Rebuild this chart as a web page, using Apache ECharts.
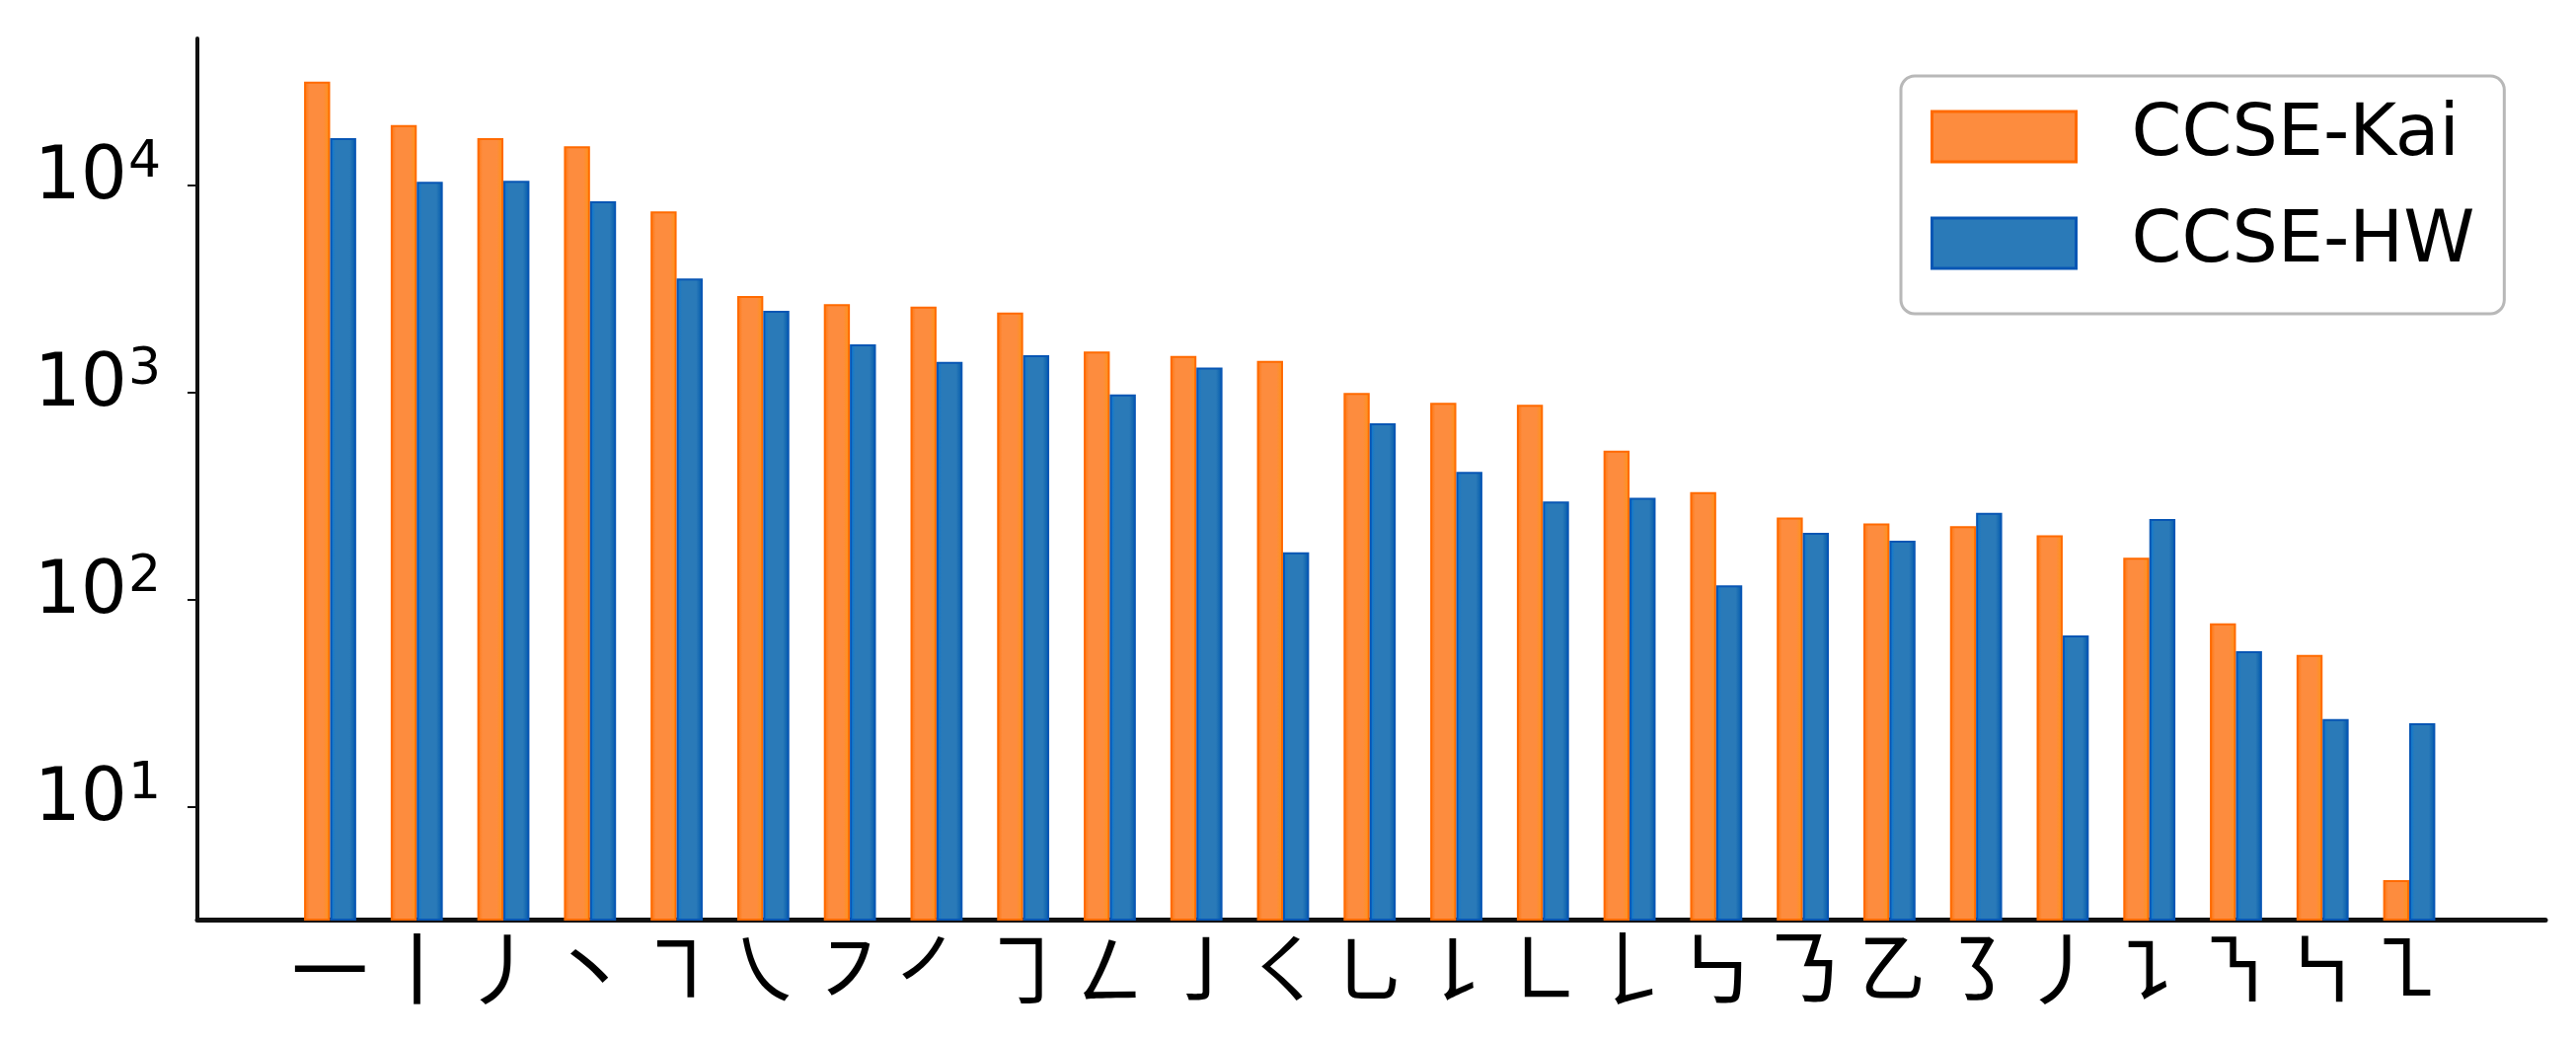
<!DOCTYPE html>
<html>
<head>
<meta charset="utf-8">
<style>html,body{margin:0;padding:0;background:#fff}#c{width:2610px;height:1052px}</style>
<script src="https://cdn.jsdelivr.net/npm/echarts@6/dist/echarts.min.js"></script>
</head>
<body>
<div id="c"></div>
<script>
const strokes = ['㇐','㇑','㇓','丶','㇕','㇏','㇇','㇒','㇆','㇜','㇚','㇛','㇟','㇙','㇗','𠄌','㇉','㇡','㇠','㇌','㇓','㇊','㇎','㇞','㇅'];
const ccseKai = [31770,19600,16940,15460,7500,2926,2671,2601,2436,1577,1503,1422,995,891,871,524,330,249,233,226,204,159,76.7,54,4.4];
const ccseHw = [16940,10420,10520,8390,3556,2483,1708,1406,1514,977,1318,169,710,413,297,310,117,210,192,262,67,245,56.2,26.4,25.2];
const yTicks = [10,100,1000,10000];
const yMin = 2.84, yMax = 51300;

const grad = (a,b,c) => ({type:'linear',x:0,y:0,x2:1,y2:0,colorStops:[
  {offset:0,color:a},{offset:0.2,color:b},{offset:0.75,color:b},{offset:1,color:c}]});

const chart = echarts.init(document.getElementById('c'), null, {renderer:'canvas'});
const labelFont = 'DejaVu Sans';
chart.setOption({
  animation:false,
  backgroundColor:'#fff',
  grid:[
    {left:200, right:31, top:39, height:893},
    {left:290.6, right:125.1, top:39, height:893}
  ],
  legend:{
    left:1926, top:77,
    orient:'vertical',
    padding:[25,30,35,30],
    itemWidth:146, itemHeight:51, itemGap:35,
    backgroundColor:'#fff',
    borderColor:'#b8b8b8', borderWidth:3, borderRadius:14,
    icon:'rect',
    textStyle:{fontFamily:labelFont,fontSize:73,color:'#000',lineHeight:51,padding:[0,0,0,51]},
    data:[
      {name:'CCSE-Kai',itemStyle:{color:'#fd8c3e',borderColor:'#ff6a00',borderWidth:3}},
      {name:'CCSE-HW',itemStyle:{color:'#2a7ab8',borderColor:'#0856b4',borderWidth:3}}
    ]
  },
  xAxis:[
    {gridIndex:0,type:'category',data:[],axisLine:{show:true,lineStyle:{color:'#111',width:5}},axisTick:{show:false},axisLabel:{show:false},splitLine:{show:false}},
    {gridIndex:1,type:'category',data:strokes,axisLine:{show:false},axisTick:{show:false},splitLine:{show:false},
      axisLabel:{interval:0,fontFamily:'Noto Sans CJK SC',fontSize:84,color:'#000',margin:8}}
  ],
  yAxis:[
    {gridIndex:0,type:'log',logBase:10,min:yMin,max:yMax,
      axisLine:{show:true,lineStyle:{color:'#111',width:4}},
      axisTick:{show:true,length:10,lineStyle:{color:'#111',width:2},customValues:yTicks},
      splitLine:{show:false},minorTick:{show:false},
      axisLabel:{show:true,customValues:yTicks,margin:37,align:'right',padding:[0,0,12,0],
        formatter:v=>'{a|10}{b|'+Math.round(Math.log10(v))+'}',
        rich:{a:{fontFamily:labelFont,fontSize:74,color:'#000',lineHeight:74},
              b:{fontFamily:labelFont,fontSize:52,color:'#000',lineHeight:52,padding:[0,0,32,1]}}}},
    {gridIndex:1,type:'log',logBase:10,min:yMin,max:yMax,show:false,splitLine:{show:false}}
  ],
  series:[
    {name:'CCSE-Kai',type:'bar',xAxisIndex:1,yAxisIndex:1,data:ccseKai,barWidth:26.4,barGap:0,
     itemStyle:{color:grad('#ff7208','#fd8c3e','#ff9410'),borderColor:'#ff6a00',borderWidth:2}},
    {name:'CCSE-HW',type:'bar',xAxisIndex:1,yAxisIndex:1,data:ccseHw,barWidth:26.4,barGap:0,
     itemStyle:{color:grad('#0078dc','#2a7ab8','#0058ac'),borderColor:'#0856b4',borderWidth:2}}
  ]
});
</script>
</body>
</html>
